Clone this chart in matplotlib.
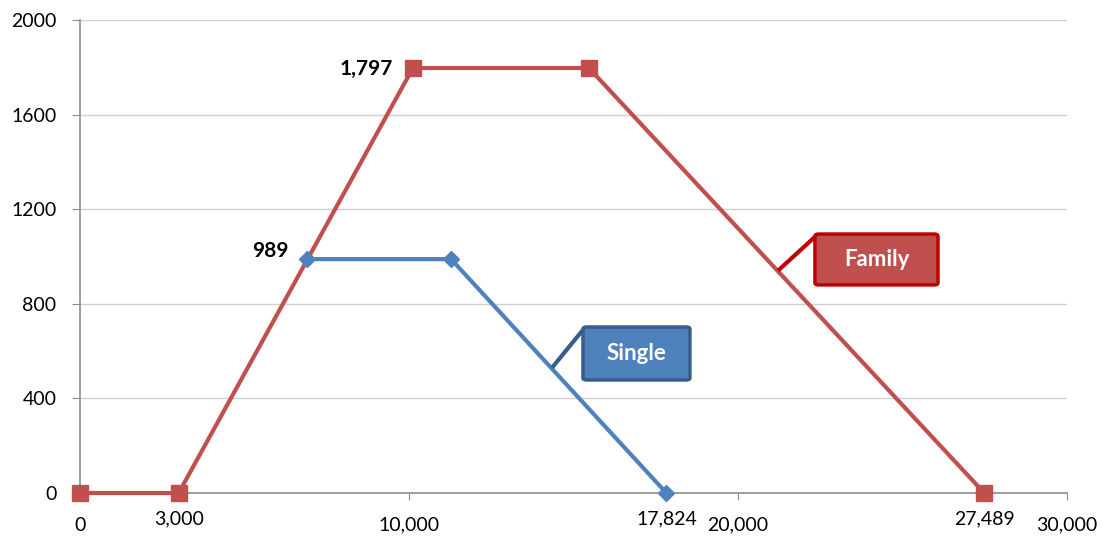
import matplotlib.pyplot as plt
import matplotlib.transforms as mtransforms
from matplotlib.patches import FancyBboxPatch
from matplotlib.ticker import FuncFormatter

plt.rcParams['font.family'] = ['Lato', 'DejaVu Sans']

# EITC schedules (income vs credit)
family_x = [0, 3000, 10120, 15470, 27489]
family_y = [0, 0, 1797, 1797, 0]
single_x = [6900, 11280, 17824]
single_y = [989, 989, 0]

extra_xlabels = [3000, 17824, 27489]

red = '#C0504D'
blue = '#4F81BD'

fig = plt.figure(figsize=(11.03, 5.38), dpi=100)
ax = fig.add_axes([0.0725, 0.0836, 0.8948, 0.8792])

ax.plot(family_x, family_y, color=red, lw=3, marker='s', ms=11, clip_on=False, zorder=3)
ax.plot(single_x, single_y, color=blue, lw=3, marker='D', ms=8, clip_on=False, zorder=4)

ax.set_xlim(0, 30000)
ax.set_ylim(0, 2000)
ax.set_yticks(range(0, 2001, 400))
ax.set_xticks([0, 10000, 20000, 30000])
ax.xaxis.set_major_formatter(FuncFormatter(lambda v, p: f'{int(v):,}'))

ax.grid(axis='y', color='#D0D0D0', lw=1)
ax.set_axisbelow(True)
for s in ['top', 'right']:
    ax.spines[s].set_visible(False)
for s in ['left', 'bottom']:
    ax.spines[s].set_color('#8C8C8C')
    ax.spines[s].set_linewidth(1.2)
ax.tick_params(axis='y', length=6, color='#8C8C8C', labelsize=14, pad=11)
ax.tick_params(axis='x', length=5, color='#8C8C8C', labelsize=14, pad=12, direction='out')

# extra income labels on the x axis
trans = mtransforms.blended_transform_factory(ax.transData, ax.transAxes)
for v in extra_xlabels:
    ax.text(v, -0.055, f'{v:,}', transform=trans, ha='center', va='center', fontsize=14)

# data labels
ax.text(family_x[2] - 600, family_y[2] - 5, f'{family_y[2]:,}', ha='right', va='center',
        fontsize=15, fontweight='bold')
ax.text(single_x[0] - 550, single_y[0] + 35, f'{single_y[0]:,}', ha='right', va='center',
        fontsize=15, fontweight='bold')


def callout(label, point, x0, x1, y0, y1, fc, ec):
    ax.plot([point[0], x0], [point[1], y1 - 12], color=ec, lw=3, solid_capstyle='butt', zorder=5)
    box = FancyBboxPatch((x0, y0), x1 - x0, y1 - y0, boxstyle='round,pad=0,rounding_size=120',
                         mutation_aspect=0.07, fc=fc, ec=ec, lw=2.5, zorder=6)
    ax.add_patch(box)
    ax.text((x0 + x1) / 2, (y0 + y1) / 2, label, ha='center', va='center', color='white',
            fontsize=16, fontweight='bold', zorder=7)


callout('Single', (14350, 530), 15290, 18540, 478, 702, blue, '#385D8A')
callout('Family', (21216, 940), 22340, 26080, 880, 1095, red, '#C00000')

fig.savefig('out.png', dpi=100)
